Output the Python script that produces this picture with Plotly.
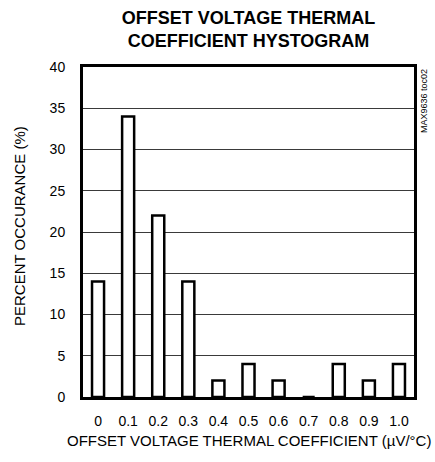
import plotly.graph_objects as go

coefficients = [0.0, 0.1, 0.2, 0.3, 0.4, 0.5, 0.6, 0.7, 0.8, 0.9, 1.0]
tick_labels = ["0", "0.1", "0.2", "0.3", "0.4", "0.5", "0.6", "0.7", "0.8", "0.9", "1.0"]
percent = [14, 34, 22, 14, 2, 4, 2, 0, 4, 2, 4]
y_ticks = [0, 5, 10, 15, 20, 25, 30, 35, 40]

FONT = "Liberation Sans, Arial, sans-serif"

fig = go.Figure()
fig.add_trace(go.Bar(
    x=coefficients, y=percent, width=0.04,
    marker=dict(color="white", line=dict(color="black", width=2.5)),
))

fig.update_layout(
    width=435, height=462,
    margin=dict(l=83, r=21, t=67, b=65, autoexpand=False),
    plot_bgcolor="white", paper_bgcolor="white",
    showlegend=False,
    font=dict(family=FONT, size=14, color="black"),
    title=dict(
        text="<b>OFFSET VOLTAGE THERMAL<br>COEFFICIENT HYSTOGRAM</b>",
        x=0.5, xanchor="center", xref="paper",
        y=1 - 24 / 462, yanchor="top", yref="container",
        font=dict(family=FONT, size=18, color="black"),
    ),
    xaxis=dict(
        range=[-0.05, 1.05], tickvals=coefficients, ticktext=tick_labels,
        showgrid=False, zeroline=False, ticks="", automargin=False,
        showline=True, linecolor="black", linewidth=3, mirror=True,
        ticklabelstandoff=9,
        tickfont=dict(size=14),
    ),
    yaxis=dict(
        range=[0, 40], tickvals=y_ticks, automargin=False,
        showgrid=True, gridcolor="#3a3a3a", gridwidth=1, zeroline=False, ticks="",
        showline=True, linecolor="black", linewidth=3, mirror=True,
        ticklabelstandoff=12,
        tickfont=dict(size=14),
    ),
)

fig.add_annotation(
    text="OFFSET VOLTAGE THERMAL COEFFICIENT (µV/°C)", xref="paper", yref="paper",
    x=0.5, y=0, xanchor="center", yanchor="middle", yshift=-43,
    showarrow=False, font=dict(family=FONT, size=15, color="black"),
)
fig.add_annotation(
    text="PERCENT OCCURANCE (%)", textangle=-90, xref="paper", yref="paper",
    x=0, y=0.5, xanchor="center", yanchor="middle", xshift=-64, yshift=6,
    showarrow=False, font=dict(family=FONT, size=15, color="black"),
)
fig.add_annotation(
    text="MAX9636 toc02", textangle=-90, xref="paper", yref="paper",
    x=1.0, y=1.0, xanchor="center", yanchor="top", xshift=10,
    showarrow=False, font=dict(family=FONT, size=9, color="black"),
)

fig.write_html("out.html", config={"displayModeBar": False},
               post_script="document.body.style.margin='0';")
